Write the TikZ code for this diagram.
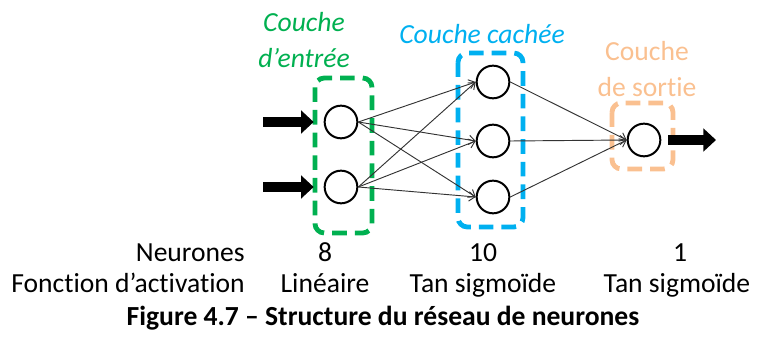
\documentclass[tikz,border=0pt]{standalone}
\usepackage{fontspec}
\setmainfont{Carlito}[Ligatures=NoCommon]
\usepackage{tikz}
\usetikzlibrary{arrows.meta,calc,positioning}
\definecolor{vert}{HTML}{00B050}
\definecolor{bleu}{HTML}{00B0F0}
\definecolor{orange}{HTML}{FAC090}
\definecolor{trait}{HTML}{333333}

\begin{document}
\begin{tikzpicture}[x=0.75pt, y=-0.75pt, font=\fontsize{20.7}{24}\selectfont,
      neurone/.style={draw, circle, line width=1.5pt, minimum size=24.5pt, inner sep=0pt},
      boite/.style={draw=#1, line width=3.6pt, rounded corners=7pt,
                    dash pattern=on 11pt off 6pt},
      lien/.style={-{Straight Barb[length=4.5pt, width=7pt]}, draw=trait, line width=0.7pt},
      fleche/.style={-{Triangle[length=9.5pt, width=17pt]}, line width=7.5pt},
      texte/.style={anchor=base, inner sep=0pt}]
    \useasboundingbox (0,0) rectangle (758,338);
    % couches
    \draw[boite=vert] (315,78) rectangle (372,233);
    \draw[boite=bleu] (458,53) rectangle (523,227);
    \draw[boite=orange] (612,103) rectangle (673,169);
    \node[neurone] (e1) at (341,122) {};
    \node[neurone] (e2) at (341,187) {};
    \node[neurone] (c1) at (493,82) {};
    \node[neurone] (c2) at (493,141) {};
    \node[neurone] (c3) at (493,197) {};
    \node[neurone] (s) at (644,140) {};
    % entrees et sortie
    \coordinate (x1) at (263,122);
    \coordinate (x2) at (263,187);
    \coordinate (y) at (716,140);
    \draw[fleche, shorten >=7.5pt] (x1) -- (e1.west);
    \draw[fleche, shorten >=7.5pt] (x2) -- (e2.west);
    \draw[fleche, shorten <=5pt] (s.east) -- (y);
    % liaisons
    \draw[lien] (e1.east) -- (c1.west);
    \draw[lien] (e1.east) -- (c2.west);
    \draw[lien] (e1.east) -- (c3.west);
    \draw[lien] (e2.east) -- (c1.west);
    \draw[lien] (e2.east) -- (c2.west);
    \draw[lien] (e2.east) -- (c3.west);
    \draw[lien] (c1.east) -- (s.west);
    \draw[lien] (c2.east) -- (s.west);
    \draw[lien] (c3.east) -- (s.west);
    % titres des couches
    \node[texte, text=vert, font=\fontsize{20.7}{24}\selectfont\itshape] (tin1) at (304,32) {Couche};
    \node[texte, text=vert, font=\fontsize{20.7}{24}\selectfont\itshape] (tin2) at (304,68) {d’entrée};
    \node[texte, text=bleu, font=\fontsize{20.7}{24}\selectfont\itshape] (tcach) at (482,44) {Couche cachée};
    \node[texte, text=orange] (tsor1) at (647,61) {Couche};
    \node[texte, text=orange] (tsor2) at (647,97) {de sortie};
    % tableau
    \node[texte, anchor=base east] (neur) at (245,262) {Neurones};
    \node[texte, anchor=base east] (fonc) at (245,293) {Fonction d’activation};
    \node[texte] (n1) at (325,262) {8};
    \node[texte] (n2) at (483,262) {10};
    \node[texte] (n3) at (680,262) {1};
    \node[texte] (f1) at (325,293) {Linéaire};
    \node[texte] (f2) at (483,293) {Tan sigmoïde};
    \node[texte] (f3) at (677,293) {Tan sigmoïde};
    \node[texte, font=\fontsize{20.7}{24}\selectfont\bfseries] (legende) at (383,326)
      {Figure 4.7 – Structure du réseau de neurones};
  \end{tikzpicture}
\end{document}
